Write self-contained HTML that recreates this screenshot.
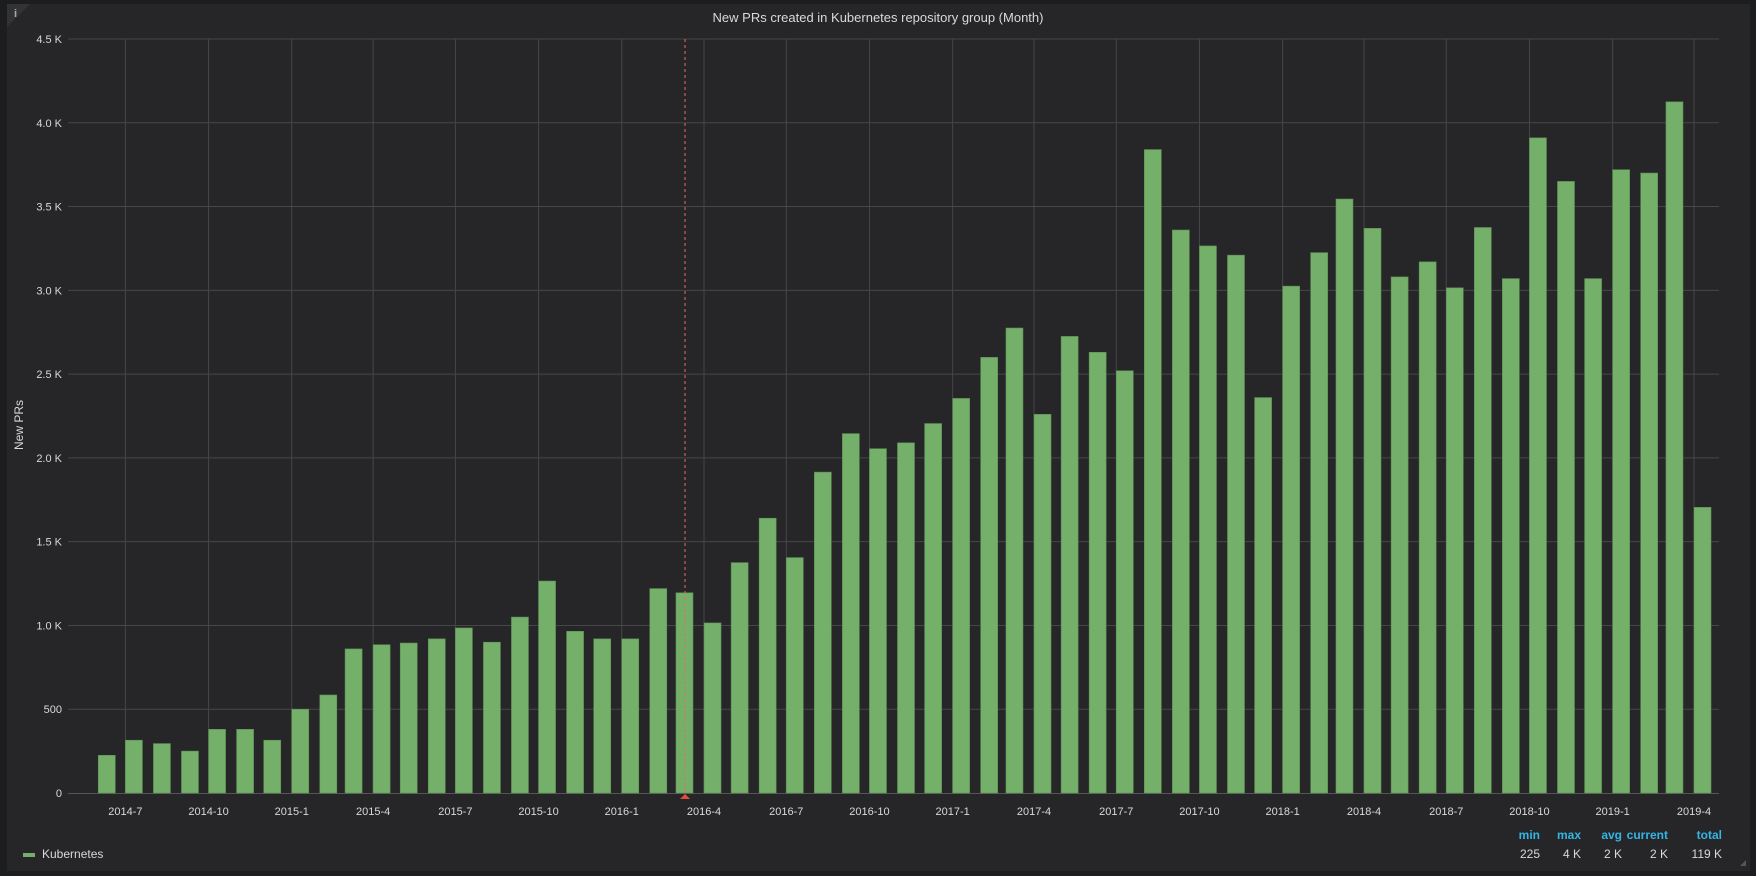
<!DOCTYPE html>
<html><head><meta charset="utf-8"><style>
body{margin:0;background:#161719;width:1756px;height:876px;overflow:hidden;font-family:"Liberation Sans",sans-serif}
#outer{position:absolute;left:0;top:0;width:1756px;height:876px;background:#1c1d1f}
#panel{position:absolute;left:7px;top:4px;width:1743px;height:867px;background:#262628}
text{font-family:"Liberation Sans",sans-serif}
</style></head><body>
<div id="outer"></div>
<div id="panel"></div>
<svg id="chart" width="1756" height="876" style="position:absolute;left:0;top:0">
<polygon points="7,4 30,4 7,27" fill="#333335"/>
<text x="14" y="17" fill="#aaa" font-size="11" font-weight="bold">i</text>
<text x="878" y="22" fill="#d8d9da" font-size="13" text-anchor="middle">New PRs created in Kubernetes repository group (Month)</text>
<text transform="translate(23,425) rotate(-90)" fill="#d8d9da" font-size="12" text-anchor="middle">New PRs</text>
<g id="grid"></g><g id="bars"></g><g id="ann"></g>
<rect x="23" y="853" width="12" height="4" fill="#75b06b"/>
<text x="42" y="858" fill="#d8d9da" font-size="12">Kubernetes</text>
<g font-size="12" text-anchor="end" font-weight="bold" fill="#33b5e5">
<text x="1540" y="839">min</text>
<text x="1581" y="839">max</text>
<text x="1622" y="839">avg</text>
<text x="1668" y="839">current</text>
<text x="1722" y="839">total</text>
</g>
<g font-size="12" text-anchor="end" fill="#d8d9da">
<text x="1540" y="858">225</text>
<text x="1581" y="858">4 K</text>
<text x="1622" y="858">2 K</text>
<text x="1668" y="858">2 K</text>
<text x="1722" y="858">119 K</text>
</g>
<path d="M1740 866 L1746 866 L1746 860 Z" fill="#555"/>
</svg>
<script>
const startYear = 2014, startMonth = 5;
const values = [225,315,295,250,380,380,315,
500,585,860,885,895,920,985,900,1050,1265,965,920,
920,1220,1195,1015,1375,1640,1405,1915,2145,2055,2090,2205,
2355,2600,2775,2260,2725,2630,2520,3840,3360,3265,3210,2360,
3025,3225,3545,3370,3080,3170,3015,3375,3070,3910,3650,3070,
3720,3700,4125,1705];
const yTicks = [0,500,1000,1500,2000,2500,3000,3500,4000,4500];
const yTickLabels = ["0","500","1.0 K","1.5 K","2.0 K","2.5 K","3.0 K","3.5 K","4.0 K","4.5 K"];
const xTickLabels = ["2014-7","2014-10","2015-1","2015-4","2015-7","2015-10","2016-1","2016-4","2016-7","2016-10","2017-1","2017-4","2017-7","2017-10","2018-1","2018-4","2018-7","2018-10","2019-1","2019-4"];
const annotationDate = "2016-3-11";

const NS="http://www.w3.org/2000/svg";
const L=68,R=1719,T=39,B=793,yMax=4500;
const t0=Date.UTC(2014,6,1),t1=Date.UTC(2019,3,1),x0=125.4,x1=1694;
function xs(t){return x0+(t-t0)/(t1-t0)*(x1-x0);}
function xd(str){const p=str.split('-').map(Number);return xs(Date.UTC(p[0],p[1]-1,p[2]||1));}
function ys(v){return B-v/yMax*(B-T);}
function mk(tag,a,parent){const e=document.createElementNS(NS,tag);for(const k in a)e.setAttribute(k,a[k]);parent.appendChild(e);return e;}
const grid=document.getElementById('grid'),bars=document.getElementById('bars'),ann=document.getElementById('ann');
yTicks.forEach((v,i)=>{
  const y=ys(v);
  if(i>0){const l=mk('line',{x1:L,x2:R,y1:y,y2:y,stroke:'#464648','stroke-width':1},grid);
  
  }
  const t=mk('text',{x:62,y:y+4,fill:'#d8d9da','font-size':11,'text-anchor':'end'},grid);
  t.textContent=yTickLabels[i];
  
  
});
xTickLabels.forEach(s=>{
  const x=xd(s);
  const l=mk('line',{x1:x,x2:x,y1:T,y2:B,stroke:'#464648','stroke-width':1},grid);
  
  
  const t=mk('text',{x:x,y:815,fill:'#d8d9da','font-size':11,'text-anchor':'middle'},grid);
  t.textContent=s;
  
  
});
values.forEach((v,i)=>{
  const m=startMonth+i,yr=startYear+Math.floor(m/12),mo=m%12;
  const x=xs(Date.UTC(yr,mo,1));
  const r=mk('rect',{x:x,y:ys(v),width:17,height:B-ys(v),fill:'#75b06b',stroke:'#5f8f56','stroke-width':0.6},bars);
  
  
});
const ax=mk('line',{x1:L,x2:R,y1:B+0.5,y2:B+0.5,stroke:'#555','stroke-width':1},grid);


const xa=xd(annotationDate);
const al=mk('line',{x1:xa,x2:xa,y1:T,y2:B,stroke:'#e86a62','stroke-width':1,'stroke-dasharray':'3,3'},ann);


const am=mk('polygon',{points:(xa-5)+','+(B+6)+' '+(xa+5)+','+(B+6)+' '+xa+','+(B+1),fill:'#e24d42'},ann);


</script>
</body></html>
